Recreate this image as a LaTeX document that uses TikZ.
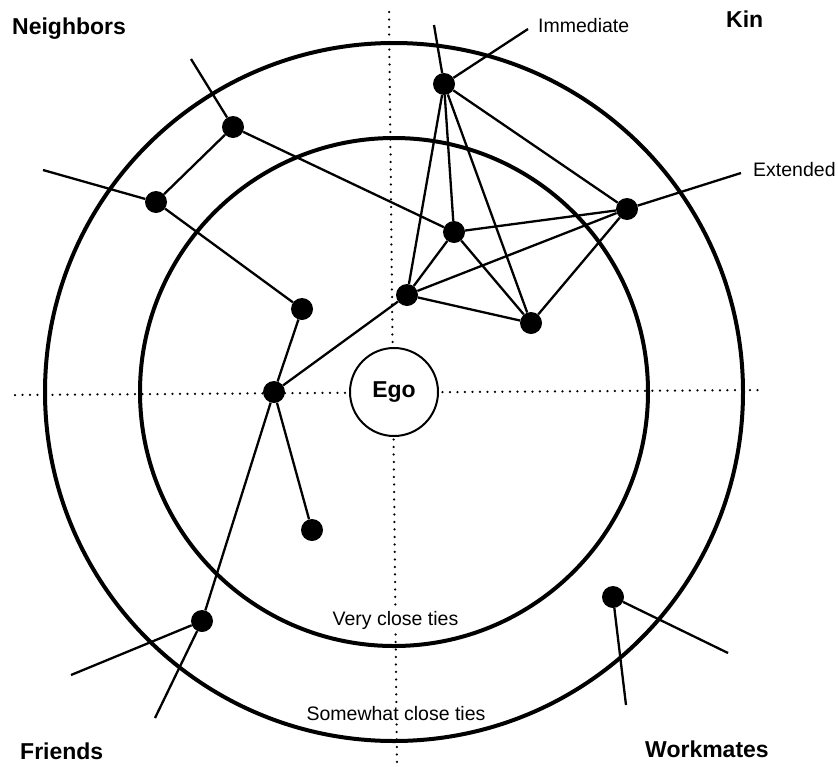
\documentclass[tikz,border=0pt]{standalone}
\usepackage{fontspec}
\setmainfont{Liberation Sans}
\begin{document}
\begin{tikzpicture}[x=1pt,y=-1pt,
  ring/.style={line width=4pt},
  dotline/.style={line width=2.5pt,line cap=round,dash pattern=on 0pt off 7.5pt},
  tie/.style={line width=2.3pt},
  person/.style={circle,fill=black,inner sep=0pt,minimum size=22pt},
  group/.style={font=\fontsize{23}{26}\selectfont\bfseries,inner sep=0pt,anchor=base west},
  sub/.style={font=\fontsize{19.5}{22}\selectfont,inner sep=0pt,anchor=base west},
  ring label/.style={font=\fontsize{19.5}{22}\selectfont,fill=white,inner sep=3pt,anchor=base}]
\useasboundingbox (0,0) rectangle (838,766);
\coordinate (c) at (394,392);
% dotted axes
\coordinate (vt) at (389,12);
\coordinate (vb) at (397,764);
\coordinate (hl) at (15,395);
\coordinate (hr) at (763,390);
\draw[dotline] (vt) -- (vb);
\draw[dotline] (hl) -- (hr);
% ring labels
\node[ring label] (vct) at (395.5,625) {Very close ties};
\node[ring label] (sct) at (396,720) {Somewhat close ties};
% rings
\draw[ring] (c) circle[radius=349];
\draw[ring] (c) circle[radius=254];
\node[circle,draw,line width=2pt,fill=white,minimum size=88pt,inner sep=0pt,
  font=\fontsize{23}{26}\selectfont\bfseries] (ego) at (c) {Ego};
% group labels
\node[group] (neigh) at (12,34) {Neighbors};
\node[group] (kin) at (726,27) {Kin};
\node[group] (friends) at (20,759) {Friends};
\node[group] (work) at (645,757) {Workmates};
\node[sub] (imml) at (538,32) {Immediate};
\node[sub] (extl) at (753,176) {Extended};
% people
\node[person] (N1) at (233,127) {};
\node[person] (N2) at (156,202) {};
\node[person] (N3) at (302,309) {};
\node[person] (H) at (274,392) {};
\node[person] (A) at (407,295) {};
\node[person] (Imm) at (444,84) {};
\node[person] (K2) at (454,232) {};
\node[person] (Ext) at (627,209) {};
\node[person] (K3) at (531,323) {};
\node[person] (F1) at (312,530) {};
\node[person] (F2) at (202,621) {};
\node[person] (W) at (613,597) {};
% free ends
\coordinate (n1free) at (191,59);
\coordinate (n2free) at (43,170);
\coordinate (immfree) at (528,29);
\coordinate (immup) at (434,25);
\coordinate (extfree) at (741,173);
\coordinate (f2a) at (71,675);
\coordinate (f2b) at (155,718);
\coordinate (wa) at (728,653);
\coordinate (wb) at (626,705);
% ties
\draw[tie] (N1) -- (n1free);
\draw[tie] (N1) -- (N2);
\draw[tie] (N1) -- (K2);
\draw[tie] (N2) -- (n2free);
\draw[tie] (N2) -- (N3);
\draw[tie] (N3) -- (H);
\draw[tie] (H) -- (A);
\draw[tie] (H) -- (F1);
\draw[tie] (H) -- (F2);
\draw[tie] (F2) -- (f2a);
\draw[tie] (F2) -- (f2b);
\draw[tie] (W) -- (wa);
\draw[tie] (W) -- (wb);
\draw[tie] (Imm) -- (immfree);
\draw[tie] (Imm) -- (immup);
\draw[tie] (Imm) -- (Ext);
\draw[tie] (Imm) -- (A);
\draw[tie] (Imm) -- (K2);
\draw[tie] (Imm) -- (K3);
\draw[tie] (K2) -- (Ext);
\draw[tie] (K2) -- (K3);
\draw[tie] (K2) -- (A);
\draw[tie] (A) -- (Ext);
\draw[tie] (A) -- (K3);
\draw[tie] (Ext) -- (K3);
\draw[tie] (Ext) -- (extfree);
\end{tikzpicture}
\end{document}
